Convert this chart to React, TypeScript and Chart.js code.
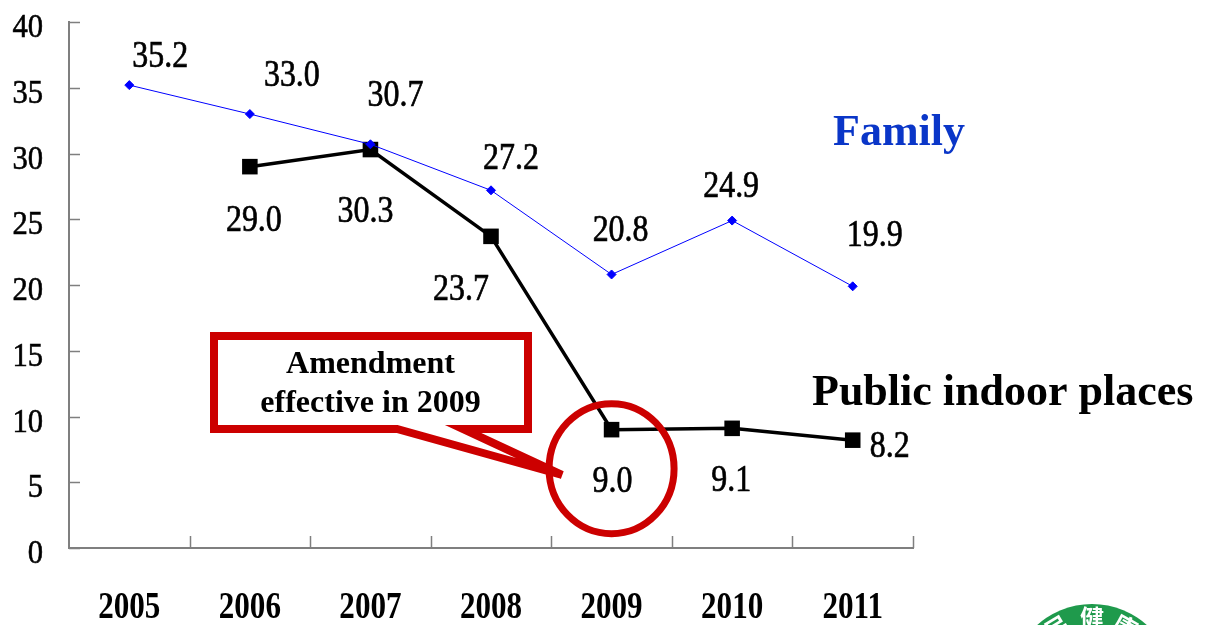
import React, { useEffect, useRef } from "react";
import { Chart, registerables } from "chart.js";

Chart.register(...registerables);

const years = ["2005", "2006", "2007", "2008", "2009", "2010", "2011"];
const familyValues = [35.2, 33.0, 30.7, 27.2, 20.8, 24.9, 19.9];
const publicValues: (number | null)[] = [null, 29.0, 30.3, 23.7, 9.0, 9.1, 8.2];
const yMin = 0;
const yMax = 40;
const yStep = 5;

const familyName = "Family";
const publicName = "Public indoor places";
const calloutLines = ["Amendment", "effective in 2009"];
const logoChars = ["民", "健", "康"];

// label offsets (px) from each point, style only
const familyLabelOffsets = [[31, -31], [42, -41], [25, -51], [20, -34], [9, -46], [-1, -37], [22, -53]];
const publicLabelOffsets = [[0, 0], [4, 51], [-5, 59], [-30, 51], [1, 49], [-1, 50], [37, 4]];

const SERIF = "'Liberation Serif', 'Times New Roman', serif";
const AXIS = "#7f7f7f";
const RED = "#cc0000";

function drawText(ctx: CanvasRenderingContext2D, text: string, x: number, y: number, size: number, bold: boolean, sx: number, align: CanvasTextAlign, color = "#000", stroke = 0) {
  ctx.save();
  ctx.font = `${bold ? "bold " : ""}${size}px ${SERIF}`;
  ctx.fillStyle = color;
  ctx.strokeStyle = color;
  ctx.textAlign = align;
  ctx.textBaseline = "alphabetic";
  ctx.translate(x, y);
  ctx.scale(sx, 1);
  ctx.fillText(text, 0, 0);
  if (stroke > 0) {
    ctx.lineWidth = stroke;
    ctx.strokeText(text, 0, 0);
  }
  ctx.restore();
}

const decor = {
  id: "decor",
  afterDatasetsDraw(chart: any) {
    const ctx: CanvasRenderingContext2D = chart.ctx;
    const xs = chart.scales.x;
    const ys = chart.scales.y;
    const area = chart.chartArea;

    // inner ticks
    ctx.save();
    ctx.strokeStyle = AXIS;
    ctx.lineWidth = 1.5;
    ys.ticks.forEach((t: any) => {
      const py = Math.round(ys.getPixelForValue(t.value)) + 0.5;
      ctx.beginPath();
      ctx.moveTo(area.left, py);
      ctx.lineTo(area.left + 11, py);
      ctx.stroke();
    });
    const half = (xs.getPixelForValue(1) - xs.getPixelForValue(0)) / 2;
    years.forEach((_, i) => {
      const px = Math.round(xs.getPixelForValue(i) + half) + 0.5;
      ctx.beginPath();
      ctx.moveTo(px, area.bottom);
      ctx.lineTo(px, area.bottom - 12);
      ctx.stroke();
    });
    ctx.restore();

    // tick labels
    ys.ticks.forEach((t: any) => {
      const py = ys.getPixelForValue(t.value);
      drawText(ctx, String(t.value), 43, py + 15, 34, false, 0.9, "right", "#000", 0.6);
    });
    years.forEach((label, i) => {
      const px = xs.getPixelForValue(i);
      drawText(ctx, label, px, 618, 37, true, 0.84, "center");
    });

    // data labels
    const fMeta = chart.getDatasetMeta(0);
    fMeta.data.forEach((el: any, i: number) => {
      const v = familyValues[i];
      if (v == null) return;
      const [dx, dy] = familyLabelOffsets[i];
      drawText(ctx, v.toFixed(1), el.x + dx, el.y + dy + 13, 38, false, 0.84, "center", "#000", 0.7);
    });
    const pMeta = chart.getDatasetMeta(1);
    pMeta.data.forEach((el: any, i: number) => {
      const v = publicValues[i];
      if (v == null) return;
      const [dx, dy] = publicLabelOffsets[i];
      drawText(ctx, v.toFixed(1), el.x + dx, el.y + dy + 13, 38, false, 0.84, "center", "#000", 0.7);
    });

    // series names
    drawText(ctx, familyName, 833, 145, 44, true, 1, "left", "#0a36c8");
    drawText(ctx, publicName, 812, 405, 44, true, 1, "left");

    // callout box
    ctx.save();
    ctx.strokeStyle = RED;
    ctx.lineWidth = 8;
    ctx.lineJoin = "miter";
    ctx.fillStyle = "#fff";
    ctx.beginPath();
    ctx.moveTo(214, 336);
    ctx.lineTo(528, 336);
    ctx.lineTo(528, 429);
    ctx.lineTo(463, 429);
    ctx.lineTo(562, 475);
    ctx.lineTo(397, 429);
    ctx.lineTo(214, 429);
    ctx.closePath();
    ctx.fill();
    ctx.stroke();
    ctx.restore();
    drawText(ctx, calloutLines[0], 370.5, 373, 32, true, 1, "center");
    drawText(ctx, calloutLines[1], 370.5, 412, 32, true, 1, "center");

    // circle around 2009 public value
    const c = pMeta.data[4];
    ctx.save();
    ctx.strokeStyle = RED;
    ctx.lineWidth = 7;
    ctx.beginPath();
    ctx.ellipse(c.x, c.y + 39, 62.5, 65, 0, 0, Math.PI * 2);
    ctx.stroke();
    ctx.restore();

    // logo fragment
    ctx.save();
    const lcx = 1092, lcy = 686, lr = 82;
    ctx.fillStyle = "#1f9a4c";
    ctx.beginPath();
    ctx.arc(lcx, lcy, lr, 0, Math.PI * 2);
    ctx.fill();
    ctx.fillStyle = "#fff";
    ctx.font = "bold 24px 'Noto Sans CJK TC', sans-serif";
    ctx.textAlign = "center";
    ctx.textBaseline = "middle";
    const angles = [-31, 0, 29];
    logoChars.forEach((ch, i) => {
      const a = (angles[i] * Math.PI) / 180;
      ctx.save();
      ctx.translate(lcx + Math.sin(a) * 68, lcy - Math.cos(a) * 68);
      ctx.rotate(a);
      ctx.fillText(ch, 0, 0);
      ctx.restore();
    });
    ctx.restore();
  },
};

export default function App() {
  const ref = useRef<HTMLCanvasElement | null>(null);
  useEffect(() => {
    if (!ref.current) return;
    const chart = new Chart(ref.current, {
      type: "line",
      data: {
        labels: years,
        datasets: [
          {
            label: familyName,
            data: familyValues,
            borderColor: "#0000ff",
            backgroundColor: "#0000ff",
            borderWidth: 1,
            pointStyle: "rectRot",
            pointRadius: 4.5,
            pointBorderWidth: 1,
            tension: 0,
          },
          {
            label: publicName,
            data: publicValues,
            borderColor: "#000",
            backgroundColor: "#000",
            borderWidth: 3.5,
            pointStyle: "rect",
            pointRadius: 11,
            pointBorderWidth: 0,
            tension: 0,
          },
        ],
      },
      options: {
        animation: false,
        responsive: true,
        maintainAspectRatio: false,
        layout: { padding: { left: 0, right: 292, top: 22, bottom: 0 } },
        plugins: { legend: { display: false }, tooltip: { enabled: false } },
        scales: {
          x: {
            type: "category",
            offset: true,
            grid: { display: false, drawTicks: false },
            border: { display: true, color: AXIS, width: 2 },
            ticks: { display: false },
            afterFit: (s: any) => { s.height = 77; },
          },
          y: {
            type: "linear",
            min: yMin,
            max: yMax,
            ticks: { display: false, stepSize: yStep },
            grid: { display: false, drawTicks: false },
            border: { display: true, color: AXIS, width: 2 },
            afterFit: (s: any) => { s.width = 69; },
          },
        },
      },
      plugins: [decor],
    });
    return () => chart.destroy();
  }, []);
  return (
    <div style={{ position: "absolute", left: 0, top: 0, width: 1205, height: 625, background: "#fff" }}>
      <canvas ref={ref} />
    </div>
  );
}
